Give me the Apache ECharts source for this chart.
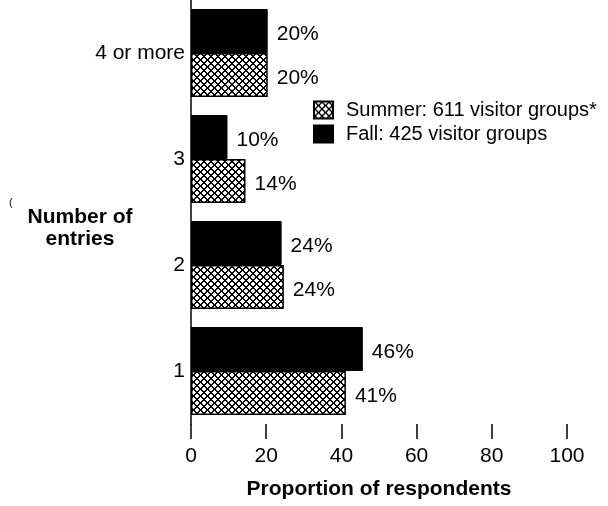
<!DOCTYPE html>
<html>
<head>
    <meta charset="UTF-8">
    <title>Number of entries</title>
    <script src="https://cdn.jsdelivr.net/npm/echarts@6/dist/echarts.min.js"></script>
    <style>
        html, body { margin: 0; padding: 0; background: #fff; }
        #chart { width: 608px; height: 506px; }
    </style>
</head>
<body>
    <div id="chart"></div>
    <script>
        // datos (de abajo hacia arriba)
        var categories = ['1', '2', '3', '4 or more'];
        var summerValues = [41.2, 24.7, 14.5, 20.4];
        var fallValues = [45.7, 24.1, 9.7, 20.4];
        var summerLabels = ['41%', '24%', '14%', '20%'];
        var fallLabels = ['46%', '24%', '10%', '20%'];
        var xTicks = [0, 20, 40, 60, 80, 100];
        var summerName = 'Summer: 611 visitor groups*';
        var fallName = 'Fall: 425 visitor groups';

        var font = '"Liberation Sans", Arial, sans-serif';

        // trama cruzada (pixel a pixel) para la serie de verano
        function hatch() {
            var s = 7;
            var c = document.createElement('canvas');
            c.width = s; c.height = s;
            var g = c.getContext('2d');
            g.fillStyle = '#fff';
            g.fillRect(0, 0, s, s);
            g.fillStyle = '#000';
            for (var x = 0; x < s; x++) {
                for (var y = 0; y < s; y++) {
                    var d1 = ((x - y) % s + s) % s;
                    var d2 = (x + y) % s;
                    if (d1 <= 1 || d2 <= 1) g.fillRect(x, y, 1, 1);
                }
            }
            return c;
        }
        var hatchFill = { image: hatch(), repeat: 'repeat' };

        function labelFor(texts) {
            return {
                show: true,
                position: 'right',
                distance: 9,
                offset: [0, 3],
                color: '#000',
                fontFamily: font,
                fontSize: 21,
                formatter: function (p) { return texts[p.dataIndex]; }
            };
        }

        var myChart = echarts.init(document.getElementById('chart'));

        var option = {
            animation: false,
            backgroundColor: '#fff',
            grid: { left: 191, right: 41, top: -2, bottom: 82, containLabel: false },
            legend: {
                orient: 'vertical',
                left: 313,
                top: 100,
                padding: 0,
                itemWidth: 19,
                itemHeight: 17,
                itemGap: 4,
                icon: 'rect',
                data: [summerName, fallName],
                textStyle: { color: '#000', fontFamily: font, fontSize: 20, padding: [0, 0, 0, 8] }
            },
            xAxis: {
                type: 'value',
                min: xTicks[0],
                max: xTicks[xTicks.length - 1],
                interval: 20,
                name: 'Proportion of respondents',
                nameLocation: 'middle',
                nameGap: 55,
                nameTextStyle: { color: '#000', fontFamily: font, fontSize: 21, fontWeight: 'bold' },
                axisLine: { lineStyle: { color: '#000', width: 1.5 } },
                axisTick: { show: true, length: 15, lineStyle: { color: '#000', width: 1.5 } },
                axisLabel: { color: '#000', fontFamily: font, fontSize: 21, margin: 22 },
                splitLine: { show: false }
            },
            yAxis: {
                type: 'category',
                data: categories,
                axisLine: { lineStyle: { color: '#000', width: 1.5 } },
                axisTick: { show: false },
                axisLabel: { color: '#000', fontFamily: font, fontSize: 21, margin: 6 }
            },
            graphic: [
                {
                    type: 'text',
                    x: 80,
                    y: 206,
                    style: {
                        text: 'Number of\nentries',
                        fill: '#000',
                        font: 'bold 21px ' + font,
                        align: 'center',
                        verticalAlign: 'top',
                        lineHeight: 22
                    }
                },
                {
                    type: 'text',
                    x: 9,
                    y: 197,
                    style: { text: '(', fill: '#000', font: '11px ' + font }
                }
            ],
            // la serie de otoño va primero para quedar arriba en cada grupo
            series: [
                {
                    name: fallName,
                    type: 'bar',
                    data: fallValues,
                    barWidth: 44,
                    barGap: '0%',
                    itemStyle: { color: '#000', borderColor: '#000', borderWidth: 1 },
                    label: labelFor(fallLabels)
                },
                {
                    name: summerName,
                    type: 'bar',
                    data: summerValues,
                    barWidth: 44,
                    barGap: '0%',
                    itemStyle: { color: hatchFill, borderColor: '#000', borderWidth: 1.5 },
                    label: labelFor(summerLabels)
                }
            ]
        };

        myChart.setOption(option);
    </script>
</body>
</html>
